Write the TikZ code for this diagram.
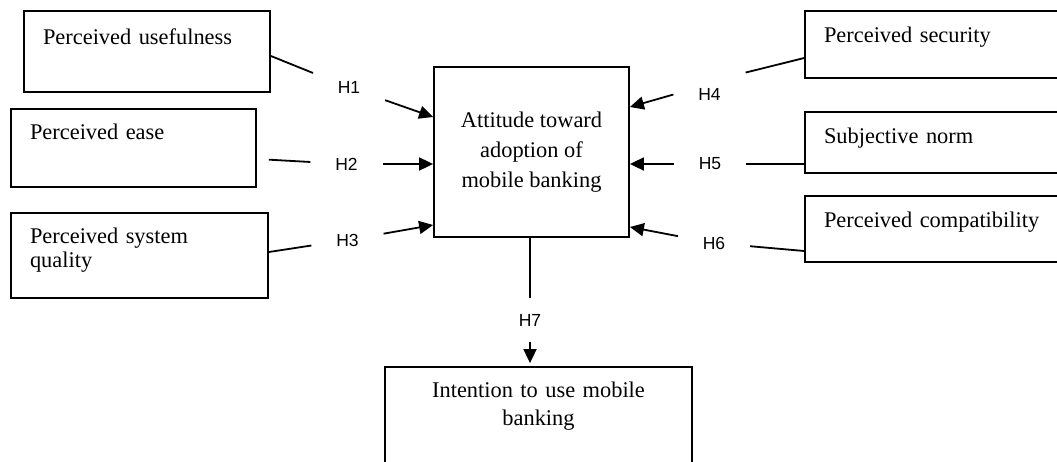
\documentclass[tikz,border=0pt]{standalone}
\usepackage{fontspec}
\setmainfont{Liberation Serif}
\newfontfamily\hypfont{Liberation Sans}
\usepackage{tikz}
\usetikzlibrary{arrows.meta}

\begin{document}
\begin{tikzpicture}[x=1pt, y=-1pt, line width=1.8pt,
		factor/.style={draw, inner xsep=19pt, inner ysep=0pt, align=left, text height=16pt, font=\fontsize{22.4}{28}\selectfont},
		core/.style={draw, inner sep=0pt, align=center, font=\fontsize{22.4}{28}\selectfont},
		hyp/.style={inner xsep=24pt, inner ysep=15pt, font=\hypfont\fontsize{17.5}{20}\selectfont},
		arr/.style={-{Triangle[length=14pt, width=13pt]}}]
	\useasboundingbox (0,0) rectangle (1057,461);
	\clip (0,0) rectangle (1057,461);
	
	% Draw the boxes
	\node[factor, text width=208pt, minimum height=81pt, text depth=31pt] (pu) at (147,51.5) {Perceived usefulness};
	\node[factor, text width=207pt, minimum height=78pt, text depth=33pt] (pe) at (133.5,148) {Perceived ease};
	\node[factor, text width=219pt, minimum height=85pt, text depth=41pt] (psq) at (139.5,255.5) {Perceived system\\[-4pt]quality};
	\node[factor, text width=257pt, minimum height=67pt, text depth=21pt] (ps) at (952.5,44.5) {Perceived security};
	\node[factor, text width=257pt, minimum height=61pt, text depth=15pt] (sn) at (952.5,142.5) {Subjective norm};
	\node[factor, text width=257pt, minimum height=66pt, text depth=20pt] (pc) at (952.5,229) {Perceived compatibility};
	\node[core, minimum width=195pt, minimum height=170pt] (att) at (531.5,152) {Attitude toward\\[2pt]adoption of\\[2pt]mobile banking};
	\node[core, text width=307pt, minimum height=130pt, text height=16pt, text depth=86pt] (int) at (538.5,432) {Intention to use mobile\\banking};
	
	% Hypothesis labels
	\foreach \n/\x/\y in {1/349/87.5, 2/346.5/164, 3/347.5/240, 4/709.5/94.5, 5/710/164, 6/714/243, 7/530/320}
		\node[hyp] (h\n) at (\x,\y) {H\n};
	
	% Left side
	\draw ([yshift=-4.5pt]pu.east) -- (h1);
	\draw[arr] (h1) -- ([yshift=35pt]att.west);
	\draw[shorten <=12pt] ([yshift=-11pt]pe.east) -- (h2);
	\draw[arr] (h2) -- (h2 -| att.west);
	\draw ([yshift=3.5pt]psq.east) -- (h3);
	\draw[arr] (h3) -- ([yshift=-73pt]att.west);
	
	% Right side
	\draw ([yshift=-13.5pt]ps.west) -- (h4.north east);
	\draw[arr] (h4.west) -- ([yshift=45pt]att.east);
	\draw (h5 -| sn.west) -- (h5);
	\draw[arr] (h5) -- (h5 -| att.east);
	\draw ([yshift=-22pt]pc.west) -- (h6);
	\draw[arr] (h6) -- ([yshift=-75pt]att.east);
	
	% Down to the intention
	\draw (h7 |- att.south) -- (h7);
	\draw[arr, shorten >=3pt] (h7) -- (h7 |- int.north);
\end{tikzpicture}
\end{document}
